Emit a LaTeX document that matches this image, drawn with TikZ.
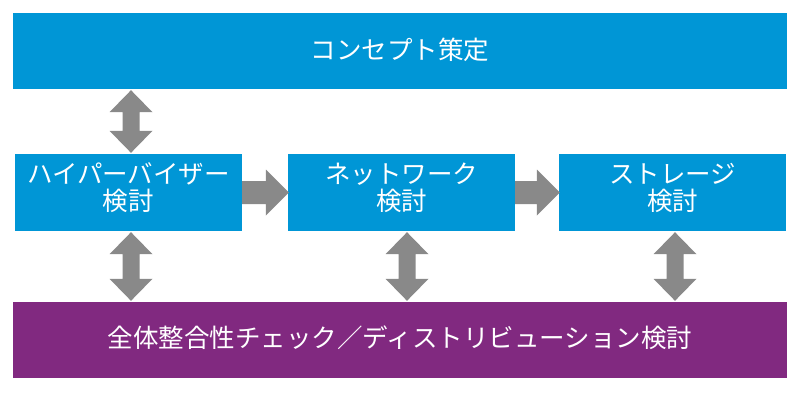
\documentclass[tikz,border=0pt]{standalone}
\usepackage{fontspec}
\setmainfont{Noto Sans CJK JP}
\usetikzlibrary{calc}
\definecolor{boxblue}{RGB}{0,150,214}
\definecolor{boxpurple}{RGB}{129,41,128}
\definecolor{arrowgray}{RGB}{137,137,137}
\tikzset{
  bluebox/.style={fill=boxblue, inner sep=0pt},
  purplebox/.style={fill=boxpurple, inner sep=0pt},
  boxtext/.style={text=white, inner sep=0pt, align=center,
    font=\fontsize{25.5}{27}\selectfont},
  arrowfill/.style={fill=arrowgray}
}
\newcommand\vdarr[3]{% #1 x, #2 upper node, #3 lower node
  \fill[arrowfill] let \p1=(#2.south), \p2=(#3.north) in
   (#1pt,\y1-1pt) -- (#1pt+21.5pt,\y1-23pt) -- (#1pt+8.5pt,\y1-23pt) --
   (#1pt+8.5pt,\y2+23pt) -- (#1pt+21.5pt,\y2+23pt) -- (#1pt,\y2+1pt) --
   (#1pt-21.5pt,\y2+23pt) -- (#1pt-8.5pt,\y2+23pt) -- (#1pt-8.5pt,\y1-23pt) --
   (#1pt-21.5pt,\y1-23pt) -- cycle;}
\newcommand\rarr[2]{% from node #1 to node #2
  \fill[arrowfill] let \p1=(#1.east), \p2=(#2.west) in
   (\x1,\y1+11.5pt) -- (\x2-22pt,\y1+11.5pt) -- (\x2-22pt,\y1+23pt) --
   (\x2+1pt,\y1) -- (\x2-22pt,\y1-23pt) -- (\x2-22pt,\y1-11.5pt) --
   (\x1,\y1-11.5pt) -- cycle;}
\begin{document}
\begin{tikzpicture}[x=1pt,y=-1pt]
\useasboundingbox (0,0) rectangle (800,394);
\node[bluebox, minimum width=774pt, minimum height=76pt] (top) at (400,51) {};
\node[bluebox, minimum width=227pt, minimum height=77pt] (hv) at (128.5,192.5) {};
\node[bluebox, minimum width=227pt, minimum height=77pt] (net) at (401.5,192.5) {};
\node[bluebox, minimum width=227pt, minimum height=77pt] (sto) at (672.5,192.5) {};
\node[purplebox, minimum width=774pt, minimum height=76pt] (chk) at (400,340) {};
\node[boxtext] (topt) at ([yshift=1pt]top.center) {コンセプト策定};
\node[boxtext] (hvt) at ([yshift=5pt]hv.center) {ハイパーバイザー\\検討};
\node[boxtext] (nett) at ([yshift=5pt]net.center) {ネットワーク\\検討};
\node[boxtext] (stot) at ([yshift=5pt]sto.center) {ストレージ\\検討};
\node[boxtext] (chkt) at ([yshift=2pt]chk.center) {全体整合性チェック／ディストリビューション検討};
\vdarr{131}{top}{hv}
\vdarr{131}{hv}{chk}
\vdarr{407}{net}{chk}
\vdarr{675}{sto}{chk}
\rarr{hv}{net}
\rarr{net}{sto}
\end{tikzpicture}
\end{document}
